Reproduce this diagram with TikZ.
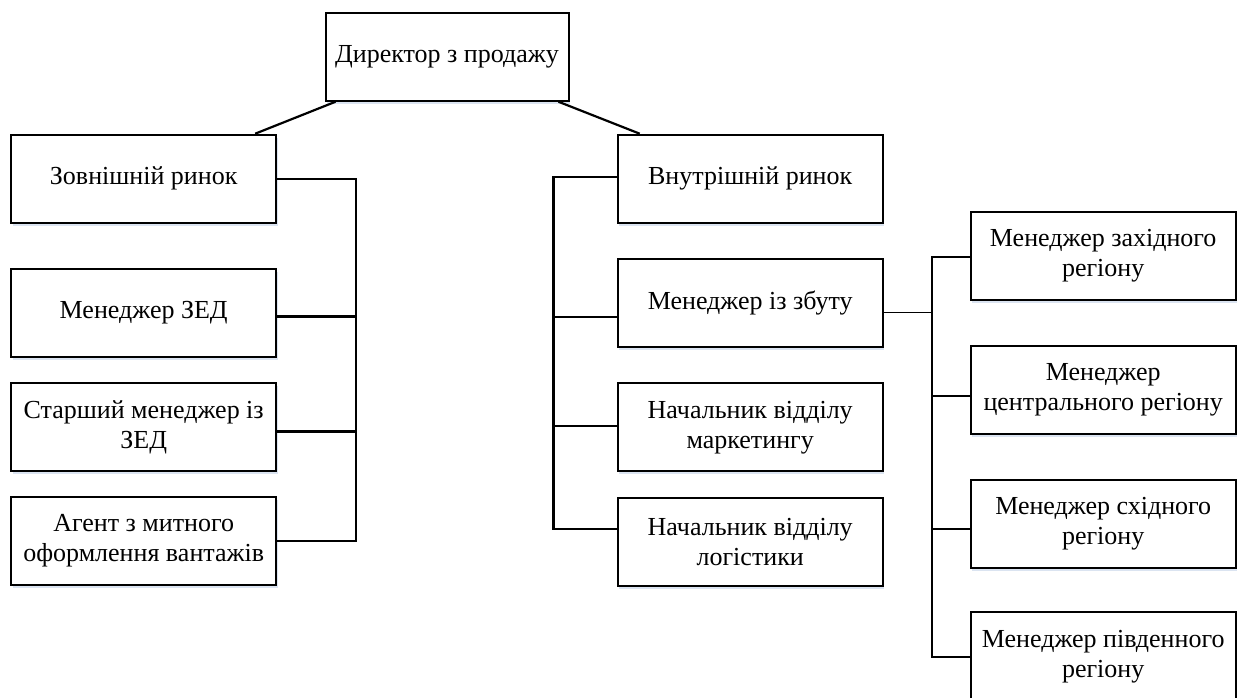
\documentclass[tikz,border=0pt]{standalone}
\usepackage{fontspec}
\setmainfont{Liberation Serif}
\usetikzlibrary{calc,shadows}
\definecolor{shadowc}{RGB}{196,210,232}
\begin{document}
\begin{tikzpicture}[x=1pt,y=1pt,
  orgbox/.style={draw=black, line width=2pt, fill=white, rectangle, inner sep=0pt,
    minimum width=265pt, minimum height=88pt, align=center,
    font=\fontsize{26}{30}\selectfont,
    drop shadow={shadow xshift=1.5pt, shadow yshift=-3pt, fill=shadowc, opacity=0.6}},
  conn/.style={draw=black, line width=2.2pt}]
\clip (0,0) rectangle (1240,-698);
\fill[white] (0,0) rectangle (1240,-698);

% top
\node[orgbox, minimum width=243pt, minimum height=87.5pt] (dir) at (447,-57) {Директор з продажу};

% left column
\node[orgbox] (zov)   at (143.7,-178.7) {Зовнішній ринок};
\node[orgbox] (zed)   at (143.7,-312.5) {Менеджер ЗЕД};
\node[orgbox] (star)  at (143.7,-427)   {Старший менеджер із\\ЗЕД};
\node[orgbox] (agent) at (143.7,-541)   {Агент з митного\\оформлення вантажів};

% middle column
\node[orgbox] (vnut) at (750.2,-178.7) {Внутрішній ринок};
\node[orgbox] (zbut) at (750.2,-302.8) {Менеджер із збуту};
\node[orgbox] (mark) at (750.2,-427.2) {Начальник відділу\\маркетингу};
\node[orgbox] (logi) at (750.2,-541.7) {Начальник відділу\\логістики};

% right column
\node[orgbox] (zah)  at (1103.2,-256)   {Менеджер західного\\регіону};
\node[orgbox] (cen)  at (1103.2,-389.9) {Менеджер\\центрального регіону};
\node[orgbox] (sch)  at (1103.2,-524)   {Менеджер східного\\регіону};
\node[orgbox] (pivd) at (1103.2,-656.3) {Менеджер південного\\регіону};

% bus coordinates
\coordinate (lb) at (356,0);
\coordinate (mb) at (553.5,0);
\coordinate (rb) at (931.7,0);

% director links
\draw[conn] ($(dir.south west)+(11,0)$) -- ($(zov.north east)+(-22,0)$);
\draw[conn] ($(dir.south east)+(-11,0)$) -- ($(vnut.north west)+(23,0)$);

% left bus
\coordinate (zovc)   at (zov.east);
\coordinate (zedc)   at ($(zed.east)+(0,-4)$);
\coordinate (starc)  at ($(star.east)+(0,-4.5)$);
\coordinate (agentc) at (agent.east);
\draw[conn] (zovc) -- (zovc -| lb) -- (agentc -| lb) -- (agentc);
\draw[conn] (zedc) -- (zedc -| lb);
\draw[conn] (starc) -- (starc -| lb);

% middle bus
\coordinate (vnutc) at ($(vnut.west)+(0,1.4)$);
\coordinate (zbutc) at ($(zbut.west)+(0,-14)$);
\coordinate (markc) at ($(mark.west)+(0,1)$);
\coordinate (logic) at ($(logi.west)+(0,12.4)$);
\draw[conn] (vnutc) -- (vnutc -| mb) -- (logic -| mb) -- (logic);
\draw[conn] (zbutc) -- (zbutc -| mb);
\draw[conn] (markc) -- (markc -| mb);

% right bus
\coordinate (zbuto) at ($(zbut.east)+(0,-9.7)$);
\coordinate (zahc)  at ($(zah.west)+(0,-0.7)$);
\coordinate (cenc)  at ($(cen.west)+(0,-6)$);
\coordinate (schc)  at ($(sch.west)+(0,-5)$);
\coordinate (pivdc) at ($(pivd.west)+(0,-0.4)$);
\draw[conn] (zahc) -- (zahc -| rb) -- (pivdc -| rb) -- (pivdc);
\draw[conn, line width=1.8pt] (zbuto) -- (zbuto -| rb);
\draw[conn] (cenc) -- (cenc -| rb);
\draw[conn] (schc) -- (schc -| rb);
\end{tikzpicture}
\end{document}
